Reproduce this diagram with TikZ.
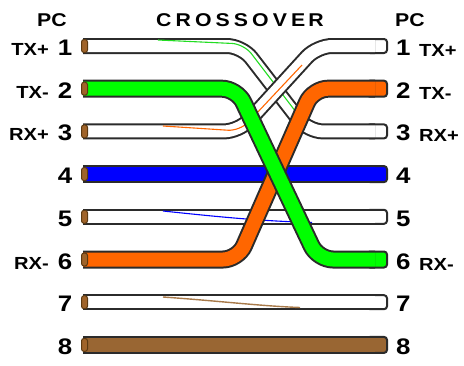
\documentclass[tikz,border=0pt]{standalone}
\usepackage{fontspec}
\setmainfont{Liberation Sans}
\newfontfamily\lab[FakeStretch=1.15]{Liberation Sans}
\definecolor{edge}{HTML}{2B2B2B}
\definecolor{wgreen}{HTML}{00FF00}
\definecolor{sgreen}{HTML}{22DD22}
\definecolor{worange}{HTML}{FF6600}
\definecolor{wblue}{HTML}{0000FF}
\definecolor{wbrown}{HTML}{996633}
\definecolor{sbrown}{HTML}{A87A4A}
\definecolor{copper}{HTML}{A0642A}
\definecolor{capedge}{HTML}{5C3A12}
\tikzset{
  wo/.style={draw=edge, line width=16pt, rounded corners=15pt},
  wi/.style={draw=#1, line width=12pt, rounded corners=15pt},
  co/.style={draw=edge, line width=18pt, rounded corners=15pt},
  ci/.style={draw=#1, line width=14pt, rounded corners=15pt},
  wend/.style={draw=edge, fill=#1, line width=2pt, rounded corners=3pt},
  capst/.style={draw=capedge, fill=copper, line width=1pt, rounded corners=2.5pt},
  stripe/.style={draw=#1, line width=1.1pt},
  num/.style={font=\lab\bfseries\fontsize{22.5}{22.5}\selectfont, inner sep=0pt},
  pinlab/.style={font=\lab\bfseries\fontsize{17.5}{17.5}\selectfont, inner sep=0pt},
  title/.style={font=\lab\bfseries\fontsize{18.5}{18.5}\selectfont, inner sep=0pt},
}
\begin{document}
\begin{tikzpicture}[x=1pt,y=-1pt]
\useasboundingbox (0,0) rectangle (464,365);
% row centres
\foreach \i/\y in {1/46,2/88.7,3/131.4,4/174.1,5/216.8,6/259.5,7/302.2,8/344.9}{
  \coordinate (L\i) at (83,\y);
  \coordinate (R\i) at (375,\y);
}
% ---- wire: left 1 -> right 3 (white/green)
\draw[wend=white] (367,124.4) rectangle (387,138.4);
\def\pa{(L1) -- (242,46) -- (308,131.4) -- (R3)}
\draw[wo] \pa; \draw[wi=white] \pa;
\draw[stripe=sgreen, rounded corners=12pt] (158,40) -- (244,44) -- (296,112);
% ---- wire: left 3 -> right 1 (white/orange)
\draw[wend=white] (367,39) rectangle (387,53);
\def\pb{(L3) -- (239,131.4) -- (317,46) -- (R1)}
\draw[wo] \pb; \draw[wi=white] \pb;
\draw[stripe=worange, rounded corners=12pt] (163,126) -- (240,131) -- (302,65);
% ---- straight wires
\draw[wend=wblue] (367,166.1) rectangle (387,182.1);
\draw[co] (L4) -- (R4); \draw[ci=wblue] (L4) -- (R4);
\draw[wend=white] (367,209.8) rectangle (387,223.8);
\draw[wo] (L5) -- (R5); \draw[wi=white] (L5) -- (R5);
\draw[stripe=wblue] (163,211) .. controls (220,217) and (260,221) .. (312,222.5);
\draw[wend=white] (367,295.2) rectangle (387,309.2);
\draw[wo] (L7) -- (R7); \draw[wi=white] (L7) -- (R7);
\draw[stripe=sbrown, line width=1.4pt] (163,297) .. controls (220,301) and (260,306) .. (300,307.5);
\draw[wend=wbrown] (367,336.9) rectangle (387,352.9);
\draw[co] (L8) -- (R8); \draw[ci=wbrown] (L8) -- (R8);
% ---- orange: left 6 -> right 2
\draw[wend=worange] (367,80.7) rectangle (387,96.7);
\def\pc{(L6) -- (238,259.5) -- (313,88.7) -- (R2)}
\draw[co] \pc; \draw[ci=worange] \pc;
% ---- green: left 2 -> right 6
\draw[wend=wgreen] (367,251.5) rectangle (387,267.5);
\def\pd{(L2) -- (237,88.7) -- (318,259.5) -- (R6)}
\draw[co] \pd; \draw[ci=wgreen] \pd;
% ---- copper caps on the left ends
\foreach \y in {46,88.7,131.4,174.1,216.8,259.5,302.2,344.9}{
  \draw[capst] (81.5,\y-6.5) rectangle (87.5,\y+6.5);
}
% ---- titles
\node[title, anchor=base] (pcl) at (52,26) {PC};
\node[title, anchor=base] (cross) at (240,26) {\addfontfeature{LetterSpace=22}CROSSOVE\,R};
\node[title, anchor=base] (pcr) at (410,26) {PC};
% ---- left numbers and labels
\foreach \i/\y in {1/46,2/88.7,3/131.4,4/174.1,5/216.8,6/259.5,7/302.2,8/344.9}{
  \node[num, anchor=base east] (ln\i) at (72.5,\y+9.5) {\i};
  \node[num, anchor=base west] (rn\i) at (396,\y+9.5) {\i};
}
\node[pinlab, anchor=base east] (ll1) at (49,55.5) {TX+};
\node[pinlab, anchor=base east] (ll2) at (49,98.2) {TX-};
\node[pinlab, anchor=base east] (ll3) at (49,140.9) {RX+};
\node[pinlab, anchor=base east] (ll6) at (49,269) {RX-};
\node[pinlab, anchor=base west] (rl1) at (419,56.5) {TX+};
\node[pinlab, anchor=base west] (rl2) at (419,99.2) {TX-};
\node[pinlab, anchor=base west] (rl3) at (419,141.9) {RX+};
\node[pinlab, anchor=base west] (rl6) at (419,270) {RX-};
\end{tikzpicture}
\end{document}
